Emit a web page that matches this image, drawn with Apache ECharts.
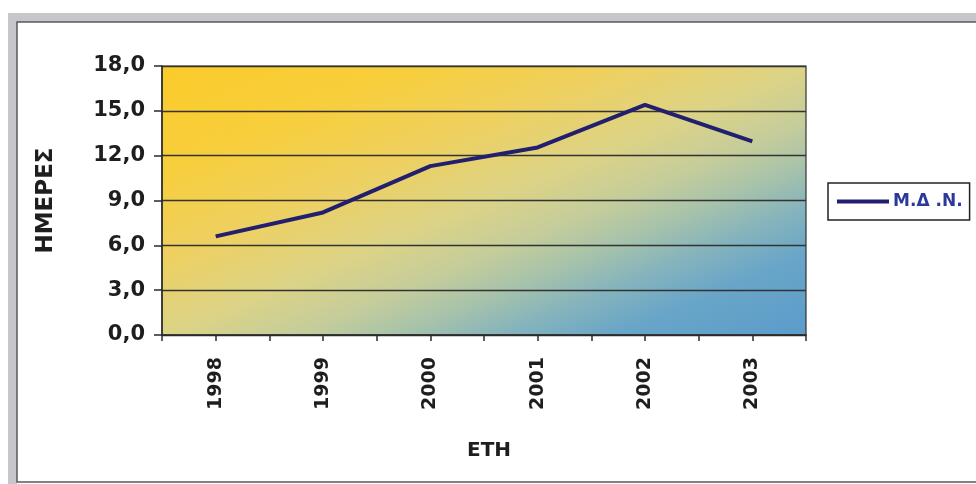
<!DOCTYPE html>
<html>
<head>
<meta charset="utf-8">
<script src="https://cdn.jsdelivr.net/npm/echarts@6/dist/echarts.min.js"></script>
<style>
  html, body { margin: 0; padding: 0; background: #ffffff; }
  #chart { width: 976px; height: 484px; }
</style>
</head>
<body>
<div id="chart"></div>
<script>
// Years on the category axis
const years = ['1998', '1999', '2000', '2001', '2002', '2003'];
// Days per year for the series
const days = [6.6, 8.2, 11.3, 12.55, 15.4, 12.95];
// Series / legend name
const seriesName = 'Μ.Δ .Ν.';
// Axis titles
const xTitle = 'ΕΤΗ';
const yTitle = 'ΗΜΕΡΕΣ';

const chart = echarts.init(document.getElementById('chart'), null, { renderer: 'canvas' });

const textDark = '#1e1e1e';
const fontFam = '"DejaVu Sans", Verdana, sans-serif';

// plot rectangle (pixels)
const plot = { left: 162, top: 66, right: 806, bottom: 335 };

// corner-to-corner fill: colour bands run parallel to the plot's rising diagonal
const pw = plot.right - plot.left, ph = plot.bottom - plot.top;
const dlen = Math.hypot(ph, pw);
const reach = (2 * pw * ph) / dlen;
const gx2 = plot.left + reach * ph / dlen;
const gy2 = plot.top + reach * pw / dlen;

// half-category tick positions (boundaries and centres)
const halfTicks = [];
for (let i = 0; i < years.length * 2; i++) halfTicks.push('');

const option = {
  backgroundColor: '#ffffff',
  animation: false,
  graphic: [
    {
      type: 'rect', silent: true, z: -10,
      shape: { x: 12.5, y: 17.5, width: 1000, height: 480 },
      style: { fill: 'none', stroke: '#c6c6cb', lineWidth: 9 }
    },
    {
      type: 'rect', silent: true, z: -9,
      shape: { x: 17, y: 22, width: 1000, height: 460 },
      style: { fill: 'none', stroke: '#5a5a5a', lineWidth: 1.5 }
    }
  ],
  grid: {
    left: plot.left, right: 976 - plot.right, top: plot.top, bottom: 484 - plot.bottom,
    show: true,
    borderColor: '#333333',
    borderWidth: 1.2,
    backgroundColor: new echarts.graphic.LinearGradient(plot.left, plot.top, gx2, gy2, [
      { offset: 0, color: '#fbcb2a' },
      { offset: 0.2, color: '#f7ce3c' },
      { offset: 0.35, color: '#efd05e' },
      { offset: 0.5, color: '#dcd386' },
      { offset: 0.6, color: '#c6cd9a' },
      { offset: 0.68, color: '#a8c3aa' },
      { offset: 0.76, color: '#86b4bc' },
      { offset: 0.85, color: '#69a5c8' },
      { offset: 1, color: '#5b9ccb' }
    ], true)
  },
  legend: {
    left: 828, top: 183,
    padding: [10, 7, 10, 9],
    borderColor: '#222',
    borderWidth: 1.5,
    backgroundColor: '#ffffff',
    icon: 'rect',
    itemWidth: 52,
    itemHeight: 4,
    itemGap: 4,
    textStyle: { color: '#2b3a9a', fontWeight: 'bold', fontSize: 17, fontFamily: fontFam, padding: [0, 0, 0, -1] },
    data: [seriesName]
  },
  xAxis: [
    {
      type: 'category',
      data: years,
      boundaryGap: true,
      name: xTitle,
      nameLocation: 'middle',
      nameGap: 106,
      nameTextStyle: { color: textDark, fontWeight: 'bold', fontSize: 20, fontFamily: fontFam, padding: [0, 0, 0, 10] },
      axisLine: { show: true, lineStyle: { color: '#2a2a2a', width: 1.5 } },
      axisTick: { show: false },
      axisLabel: {
        rotate: 90, margin: 22,
        color: textDark, fontWeight: 'bold', fontSize: 19, fontFamily: fontFam
      },
      splitLine: { show: false }
    },
    {
      type: 'category',
      data: halfTicks,
      boundaryGap: true,
      position: 'bottom',
      axisLine: { show: false },
      axisTick: { show: true, length: 6, lineStyle: { color: '#2a2a2a', width: 1.5 } },
      axisLabel: { show: false },
      splitLine: { show: false }
    }
  ],
  yAxis: {
    type: 'value',
    min: 0, max: 18, interval: 3,
    name: yTitle,
    nameLocation: 'middle',
    nameGap: 104,
    nameRotate: 90,
    nameTextStyle: { color: textDark, fontWeight: 'bold', fontSize: 23, fontFamily: fontFam },
    axisLine: { show: true, lineStyle: { color: '#2a2a2a', width: 1.5 } },
    axisTick: { show: true, length: 8, lineStyle: { color: '#2a2a2a', width: 1.5 } },
    axisLabel: {
      margin: 17,
      color: textDark, fontWeight: 'bold', fontSize: 21, fontFamily: fontFam,
      formatter: v => v.toFixed(1).replace('.', ',')
    },
    splitLine: { show: true, lineStyle: { color: '#333333', width: 1.3 } }
  },
  series: [
    {
      name: seriesName,
      type: 'line',
      data: days,
      xAxisIndex: 0,
      symbol: 'none',
      lineStyle: { color: '#221f6e', width: 4 },
      itemStyle: { color: '#221f6e' }
    }
  ]
};

chart.setOption(option);
</script>
</body>
</html>
